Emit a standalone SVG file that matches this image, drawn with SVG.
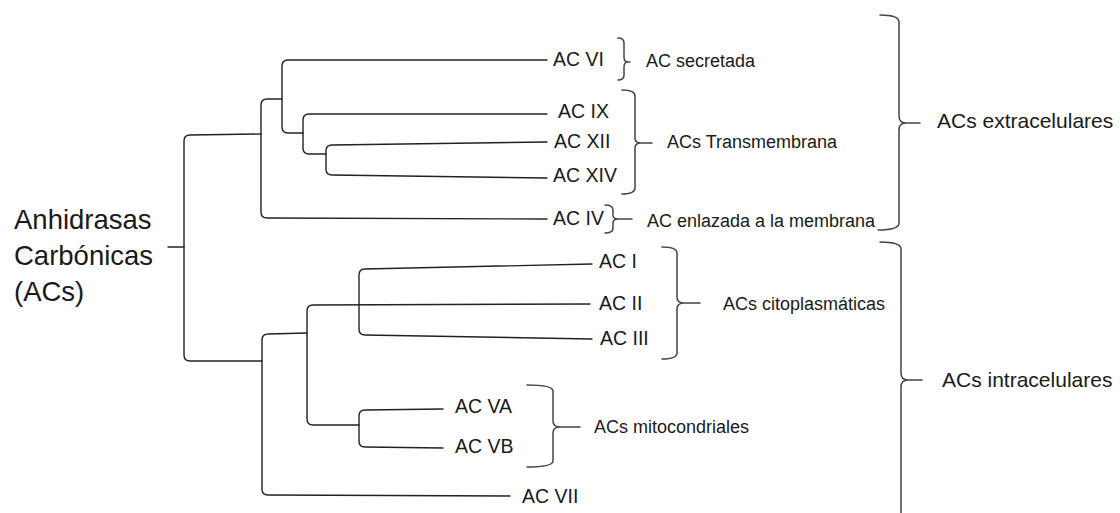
<svg xmlns="http://www.w3.org/2000/svg" width="1120" height="513" viewBox="0 0 1120 513">
<style>
.t{font-family:"Liberation Sans",Arial,sans-serif;fill:#1a1a1a}
.leaf{font-size:19.5px}
.sub{font-size:18px}
.big{font-size:21px}
.title{font-size:27.5px}
.ln{fill:none;stroke:#222;stroke-width:1.4;stroke-linecap:round}
.br{fill:none;stroke:#444;stroke-width:1.5;stroke-linecap:round}
</style>
<rect width="1120" height="513" fill="#fff"/>
<g id="connectors">
<path class="ln" d="M168,247 L184,247"/>
<path class="ln" d="M261,134 L190,135 Q184,135 184,141 L184,355 Q184,361 190,361 L262,361"/>
<path class="ln" d="M282,99 L267,99 Q261,99 261,105 L261,212 Q261,218 267,218 L547,219"/>
<path class="ln" d="M547,60 L288,60 Q282,60 282,66 L282,127 Q282,133 288,133 L303,133"/>
<path class="ln" d="M547,114 L309,114 Q303,114 303,120 L303,148 Q303,154 309,154 L326,154"/>
<path class="ln" d="M547,142 L332,145 Q326,145 326,151 L326,169 Q326,175 332,175 L547,178"/>
<path class="ln" d="M307,333 L268,334 Q262,334 262,340 L262,489 Q262,495 268,495 L510,496"/>
<path class="ln" d="M590,304 L313,305 Q307,305 307,311 L307,419 Q307,425 313,425 L359,425"/>
<path class="ln" d="M592,264 L365,269 Q359,269 359,275 L359,329 Q359,335 365,335 L592,339"/>
<path class="ln" d="M443,409 L365,410 Q359,410 359,416 L359,441 Q359,447 365,447 L443,448"/>
</g>
<g id="root">
<text class="t title" x="14" y="229">Anhidrasas</text>
<text class="t title" x="14" y="265">Carbónicas</text>
<text class="t title" x="14" y="301">(ACs)</text>
</g>
<g id="leaf-VI"><text class="t leaf" x="553" y="66">AC VI</text></g>
<g id="leaf-IX"><text class="t leaf" x="558" y="118">AC IX</text></g>
<g id="leaf-XII"><text class="t leaf" x="554" y="148">AC XII</text></g>
<g id="leaf-XIV"><text class="t leaf" x="553" y="182">AC XIV</text></g>
<g id="leaf-IV"><text class="t leaf" x="553" y="225">AC IV</text></g>
<g id="leaf-I"><text class="t leaf" x="599" y="268">AC I</text></g>
<g id="leaf-II"><text class="t leaf" x="599" y="310">AC II</text></g>
<g id="leaf-III"><text class="t leaf" x="600" y="345">AC III</text></g>
<g id="leaf-VA"><text class="t leaf" x="455" y="413">AC VA</text></g>
<g id="leaf-VB"><text class="t leaf" x="455" y="453">AC VB</text></g>
<g id="leaf-VII"><text class="t leaf" x="522" y="503">AC VII</text></g>
<g id="group-secretada">
<path class="br" d="M618,38 Q624,38 624,43 L624,57 Q624,62 628,62 L630,62 M628,62 Q624,62 624,67 L624,75 Q624,80 618,80"/>
<text class="t sub" x="646" y="67">AC secretada</text>
</g>
<g id="group-transmembrana">
<path class="br" d="M622,90 Q635,90 635,96 L635,138 Q635,143 641,143 L652,143 M641,143 Q635,143 635,148 L635,188 Q635,194 622,194"/>
<text class="t sub" x="667" y="148">ACs Transmembrana</text>
</g>
<g id="group-enlazada">
<path class="br" d="M605,205 Q613,205 613,210 L613,215 Q613,219 618,219 L632,219 M618,219 Q613,219 613,223 L613,228 Q613,233 605,233"/>
<text class="t sub" x="647" y="227">AC enlazada a la membrana</text>
</g>
<g id="group-citoplasmaticas">
<path class="br" d="M662,247 Q677,247 677,253 L677,297 Q677,303 684,303 L700,303 M684,303 Q677,303 677,309 L677,353 Q677,359 662,359"/>
<text class="t sub" x="723" y="310">ACs citoplasmáticas</text>
</g>
<g id="group-mitocondriales">
<path class="br" d="M527,385 Q553,385 553,391 L553,421 Q553,427 560,427 L580,427 M560,427 Q553,427 553,433 L553,461 Q553,467 527,467"/>
<text class="t sub" x="594" y="433">ACs mitocondriales</text>
</g>
<g id="group-extracelulares">
<path class="br" d="M880,15 Q899,15 899,22 L899,116 Q899,123 906,123 L920,123 M906,123 Q899,123 899,130 L899,223 Q899,230 878,230"/>
<text class="t big" x="937" y="128">ACs extracelulares</text>
</g>
<g id="group-intracelulares">
<path class="br" d="M880,242 Q901,242 901,249 L901,373 Q901,380 908,380 L922,380 M908,380 Q901,380 901,387 L901,520"/>
<text class="t big" x="942" y="387">ACs intracelulares</text>
</g>
</svg>
